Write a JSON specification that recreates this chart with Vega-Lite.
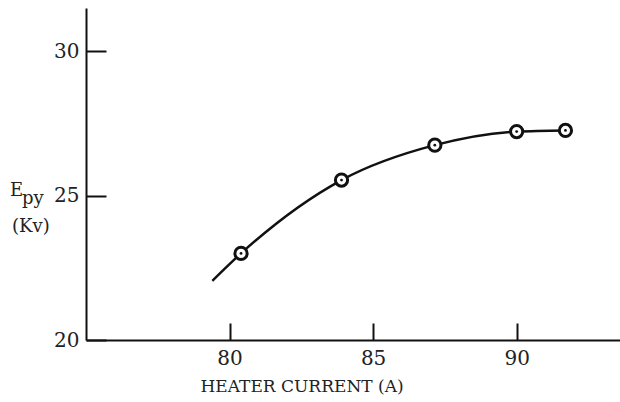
{
  "$schema": "https://vega.github.io/schema/vega-lite/v6.json",
  "width": 534,
  "height": 332,
  "autosize": {"type": "none"},
  "padding": {"left": 86, "top": 8, "right": 0, "bottom": 62},
  "background": "white",
  "config": {
    "view": {"stroke": null},
    "font": "DejaVu Serif",
    "axis": {
      "domainColor": "#111",
      "domainWidth": 2,
      "tickColor": "#111",
      "tickWidth": 2,
      "grid": false,
      "labelFont": "DejaVu Serif",
      "labelColor": "#222",
      "titleFont": "DejaVu Serif",
      "titleColor": "#222",
      "titleFontWeight": "normal"
    }
  },
  "datasets": {
    "curve": [
      {"current": 79.4, "epy": 22.05},
      {"current": 80.4, "epy": 23.0},
      {"current": 83.9, "epy": 25.54},
      {"current": 87.15, "epy": 26.75},
      {"current": 90.0, "epy": 27.22},
      {"current": 91.7, "epy": 27.26}
    ],
    "points": [
      {"current": 80.4, "epy": 23.0},
      {"current": 83.9, "epy": 25.54},
      {"current": 87.15, "epy": 26.75},
      {"current": 90.0, "epy": 27.22},
      {"current": 91.7, "epy": 27.26}
    ]
  },
  "layer": [
    {
      "data": {"name": "curve"},
      "mark": {"type": "line", "interpolate": "monotone", "color": "#111", "strokeWidth": 2.5},
      "encoding": {
        "x": {
          "field": "current", "type": "quantitative",
          "scale": {"domain": [75, 93.6], "nice": false, "zero": false},
          "axis": {
            "values": [80, 85, 90], "tickSize": -17, "labelPadding": 25,
            "labelFontSize": 20, "title": "HEATER CURRENT (A)", "titleFontSize": 17,
            "titlePadding": 10, "titleX": 114, "titleAnchor": "start", "titleAlign": "left"
          }
        },
        "y": {
          "field": "epy", "type": "quantitative",
          "scale": {"domain": [20, 31.5], "nice": false, "zero": false},
          "axis": {
            "values": [20, 25, 30], "tickSize": -20, "labelPadding": 27,
            "labelFontSize": 20, "title": null
          }
        }
      }
    },
    {
      "data": {"name": "points"},
      "mark": {"type": "point", "shape": "circle", "size": 150, "filled": true, "fill": "white", "stroke": "#111", "strokeWidth": 3, "opacity": 1},
      "encoding": {
        "x": {"field": "current", "type": "quantitative"},
        "y": {"field": "epy", "type": "quantitative"}
      }
    },
    {
      "data": {"name": "points"},
      "mark": {"type": "point", "shape": "circle", "size": 8, "filled": true, "color": "#111", "opacity": 1},
      "encoding": {
        "x": {"field": "current", "type": "quantitative"},
        "y": {"field": "epy", "type": "quantitative"}
      }
    },
    {
      "data": {"values": [{}]},
      "mark": {"type": "text", "text": "E", "font": "DejaVu Serif", "fontSize": 18, "align": "left", "baseline": "alphabetic", "dx": -76, "dy": 0, "color": "#222"},
      "encoding": {"x": {"datum": 75}, "y": {"datum": 25}}
    },
    {
      "data": {"values": [{}]},
      "mark": {"type": "text", "text": "py", "font": "DejaVu Serif", "fontSize": 18, "align": "left", "baseline": "alphabetic", "dx": -64, "dy": 8, "color": "#222"},
      "encoding": {"x": {"datum": 75}, "y": {"datum": 25}}
    },
    {
      "data": {"values": [{}]},
      "mark": {"type": "text", "text": "(Kv)", "font": "DejaVu Serif", "fontSize": 18, "align": "left", "baseline": "alphabetic", "dx": -74, "dy": 36, "color": "#222"},
      "encoding": {"x": {"datum": 75}, "y": {"datum": 25}}
    }
  ]
}
